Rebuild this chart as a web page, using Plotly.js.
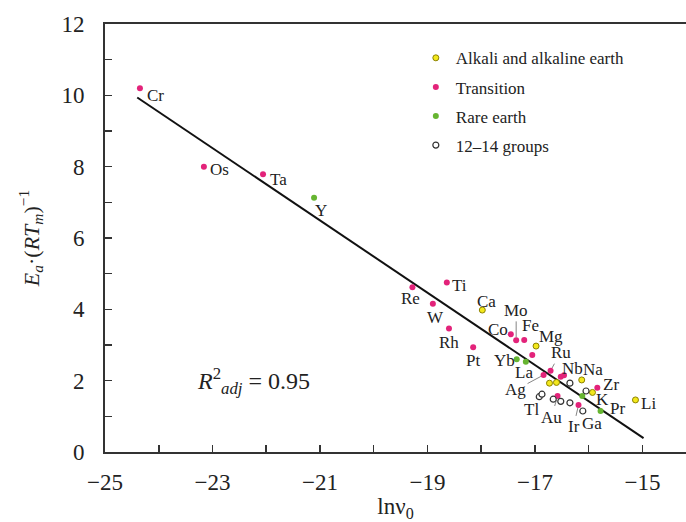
<!DOCTYPE html>
<html>
<head>
<meta charset="utf-8">
<script src="https://cdn.plot.ly/plotly-3.0.1.min.js"></script>
<style>html,body{margin:0;padding:0;background:#fff}#chart{width:686px;height:522px}</style>
</head>
<body>
<div id="chart"></div>
<script>
// ---- data ----
const alkX = [-17.98, -16.98, -16.73, -16.60, -16.13, -15.93, -15.13];
const alkY = [3.98, 2.97, 1.93, 1.95, 2.02, 1.67, 1.46];
const alkLab = ['Ca', 'Mg', '', '', 'Na', 'K', 'Li'];

const trX = [-24.35, -23.16, -22.06, -19.28, -18.64, -18.90, -18.60, -18.15, -17.45, -17.35, -17.20, -17.05, -16.71, -16.84, -16.52, -16.46, -15.84, -16.58, -16.19];
const trY = [10.20, 8.00, 7.79, 4.62, 4.75, 4.16, 3.46, 2.94, 3.30, 3.13, 3.14, 2.72, 2.28, 2.16, 2.11, 2.15, 1.80, 1.57, 1.32];
const trLab = ['Cr', 'Os', 'Ta', 'Re', 'Ti', 'W', 'Rh', 'Pt', 'Co', 'Mo', 'Fe', '', 'Ru', 'Ag', 'Nb', '', 'Zr', 'Au', 'Ir'];

const reX = [-21.11, -17.34, -17.17, -16.12, -15.78];
const reY = [7.13, 2.60, 2.53, 1.57, 1.15];
const reLab = ['Y', 'Yb', 'La', '', 'Pr'];

const grX = [-16.92, -16.87, -16.66, -16.52, -16.35, -16.35, -16.05, -16.11];
const grY = [1.55, 1.62, 1.48, 1.42, 1.93, 1.38, 1.71, 1.15];
const grLab = ['Tl', '', '', '', '', '', '', 'Ga'];

const fitX = [-24.40, -14.98];
const fitY = [9.94, 0.39];

const seriesNames = ['Alkali and alkaline earth', 'Transition', 'Rare earth', '12\u201314 groups'];
const xTickVals = [-25, -23, -21, -19, -17, -15];
const xTickText = ['\u221225', '\u221223', '\u221221', '\u221219', '\u221217', '\u221215'];
const yTickVals = [0, 2, 4, 6, 8, 10, 12];
const r2Text = '<i>R</i><sup>2</sup><sub><i>adj</i></sub> = 0.95';

// ---- label placement (pixel offsets, dy positive = down) ----
const labelPos = {
  Cr: [16, 7], Os: [16, 3], Ta: [15, 5], Y: [7, 13], Re: [-2, 11], Ti: [13, 3],
  W: [3, 14], Ca: [4, -9], Rh: [0, 14], Pt: [0, 13], Co: [-13, -5], Fe: [6, -15],
  Mg: [15, -10], Yb: [-12, 1], La: [-2, 11], Nb: [12, -8], Na: [11, -10],
  Zr: [14, -3], K: [10, 7], Pr: [17, -2], Li: [13, 4], Tl: [-8, 13], Ga: [9, 13]
};
const leaderPos = { Mo: [0, -30], Ru: [10, -18], Ag: [-28, 15], Au: [-6, 21], Ir: [-5, 22] };

const FONT = 'Liberation Serif';
const TXT = '#222';
const colors = {
  alk: '#f3e81c', alkLine: '#8c8200',
  tr: '#e3237a', re: '#66b531', gr: '#ffffff', grLine: '#333333'
};

const traces = [
  { x: fitX, y: fitY, mode: 'lines', line: { color: '#111', width: 2 }, showlegend: false, hoverinfo: 'skip' },
  { x: alkX, y: alkY, name: seriesNames[0], mode: 'markers', legendgroup: 'a',
    marker: { size: 6, color: colors.alk, line: { color: colors.alkLine, width: 1 } } },
  { x: trX, y: trY, name: seriesNames[1], mode: 'markers', legendgroup: 'b',
    marker: { size: 6, color: colors.tr, line: { width: 0 } } },
  { x: reX, y: reY, name: seriesNames[2], mode: 'markers', legendgroup: 'c',
    marker: { size: 6, color: colors.re, line: { width: 0 } } },
  { x: grX, y: grY, name: seriesNames[3], mode: 'markers', legendgroup: 'd',
    marker: { size: 6, color: colors.gr, line: { color: colors.grLine, width: 1.2 } } }
];

const annotations = [];
function addLabels(xs, ys, labs) {
  labs.forEach((lab, i) => {
    if (!lab) return;
    if (leaderPos[lab]) {
      const p = leaderPos[lab];
      annotations.push({ x: xs[i], y: ys[i], xref: 'x', yref: 'y', text: lab, showarrow: true,
        arrowhead: 0, arrowwidth: 0.8, arrowcolor: '#666', ax: p[0], ay: p[1], standoff: 3,
        font: { family: FONT, size: 17, color: TXT } });
    } else if (labelPos[lab]) {
      const p = labelPos[lab];
      annotations.push({ x: xs[i], y: ys[i], xref: 'x', yref: 'y', text: lab, showarrow: false,
        xshift: p[0], yshift: -p[1], xanchor: 'center', yanchor: 'middle',
        font: { family: FONT, size: 17, color: TXT } });
    }
  });
}
addLabels(alkX, alkY, alkLab);
addLabels(trX, trY, trLab);
addLabels(reX, reY, reLab);
addLabels(grX, grY, grLab);

annotations.push({ xref: 'paper', yref: 'paper', x: 0.155, y: 0.165, xanchor: 'left', yanchor: 'middle',
  text: r2Text, showarrow: false, font: { family: FONT, size: 24, color: TXT } });

const layout = {
  width: 686, height: 522,
  margin: { l: 105, r: 0, t: 24, b: 70 },
  paper_bgcolor: '#fff', plot_bgcolor: '#fff',
  font: { family: FONT, color: TXT },
  showlegend: true,
  legend: { x: 0.535, y: 0.962, xanchor: 'left', yanchor: 'top', bgcolor: 'rgba(0,0,0,0)',
    font: { family: FONT, size: 17, color: TXT }, traceorder: 'grouped', tracegroupgap: 4 },
  xaxis: {
    range: [-25, -14.19], showgrid: false, zeroline: false,
    showline: true, linecolor: '#333', linewidth: 2, mirror: true,
    tickmode: 'array', tickvals: xTickVals, ticktext: xTickText,
    ticks: 'inside', ticklen: 7, tickwidth: 1.5, tickcolor: '#333',
    minor: { dtick: 1, tick0: -25, ticks: 'inside', ticklen: 7, tickwidth: 1.5, tickcolor: '#333' },
    tickfont: { family: FONT, size: 23, color: TXT }, ticklabelstandoff: 8,
    title: { text: 'ln\u03bd<sub>0</sub>', font: { family: FONT, size: 23, color: TXT }, standoff: 16 }
  },
  yaxis: {
    range: [0, 12], showgrid: false, zeroline: false,
    showline: true, linecolor: '#333', linewidth: 2,
    tickmode: 'array', tickvals: yTickVals,
    ticks: 'inside', ticklen: 7, tickwidth: 1.5, tickcolor: '#333',
    minor: { dtick: 1, tick0: 0, ticks: 'inside', ticklen: 7, tickwidth: 1.5, tickcolor: '#333' },
    tickfont: { family: FONT, size: 23, color: TXT }, ticklabelstandoff: 14,
    title: { text: '<i>E<sub>a</sub></i>\u00b7(<i>RT<sub>m</sub></i>)<sup>\u22121</sup>', font: { family: FONT, size: 22, color: TXT }, standoff: 16 }
  },
  annotations: annotations
};

Plotly.newPlot('chart', traces, layout, { displayModeBar: false, staticPlot: true });
</script>
</body>
</html>
